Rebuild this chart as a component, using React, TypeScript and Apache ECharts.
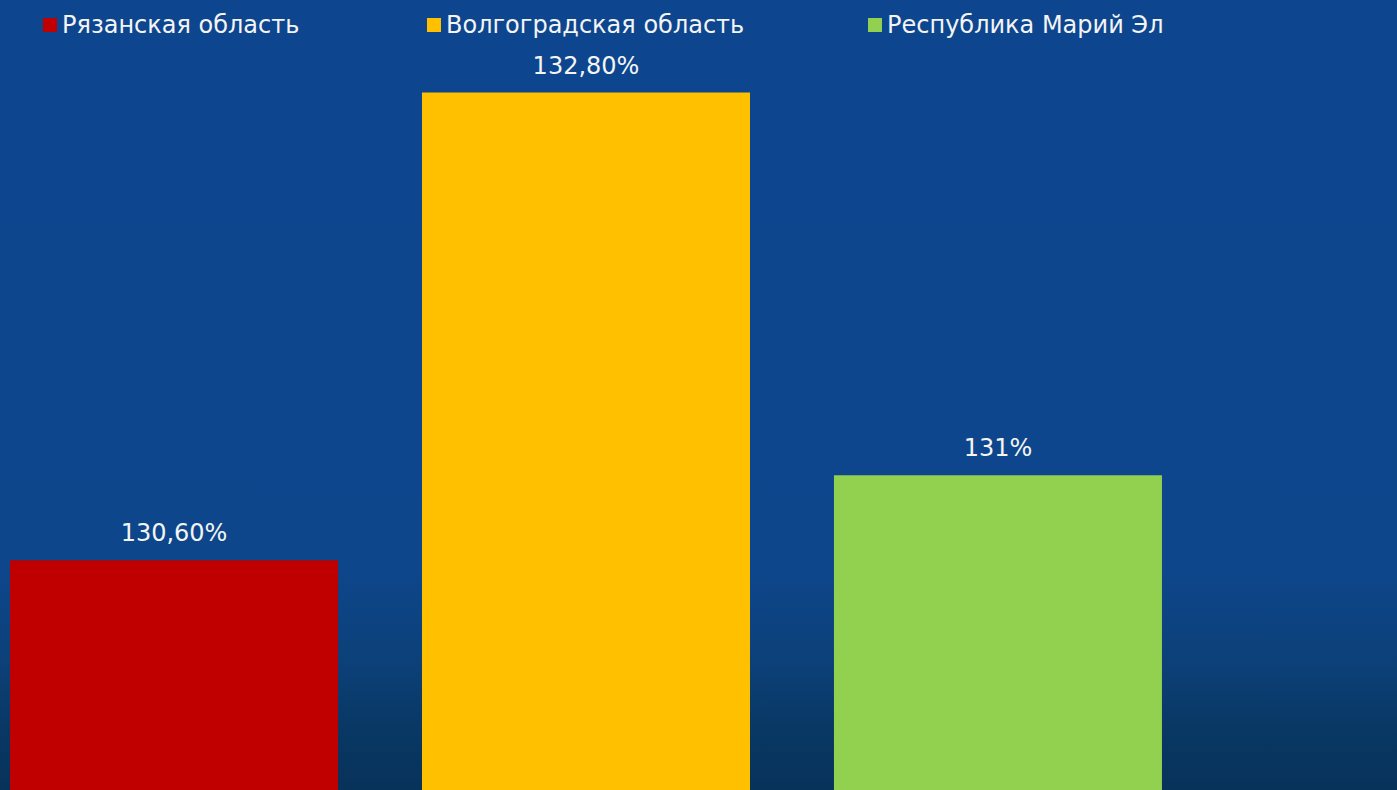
import React, { useEffect, useRef } from "react";
import * as echarts from "echarts";

const categories = ["Регион"];
const seriesNames = ["Рязанская область", "Волгоградская область", "Республика Марий Эл"];
const seriesValues = [130.6, 132.8, 131];
const valueLabels = ["130,60%", "132,80%", "131%"];
const seriesColors = ["#C00000", "#FFC000", "#92D050"];
const legendLefts = [43, 427, 868];

const FONT = "DejaVu Sans";

export default function App() {
  const ref = useRef<HTMLDivElement>(null);
  useEffect(() => {
    document.body.style.margin = "0";
    const chart = echarts.init(ref.current!, undefined, { renderer: "svg" });
    const option = {
      animation: false,
      backgroundColor: {
        type: "linear",
        x: 0,
        y: 0,
        x2: 0,
        y2: 1,
        colorStops: [
          { offset: 0, color: "#0d468f" },
          { offset: 0.72, color: "#0d468b" },
          { offset: 0.84, color: "#0c4078" },
          { offset: 0.92, color: "#093865" },
          { offset: 1, color: "#07325a" },
        ],
      },
      legend: seriesNames.map((name, i) => ({
        data: [name],
        left: legendLefts[i],
        top: 13,
        padding: 0,
        icon: "rect",
        itemWidth: 14,
        itemHeight: 14,
        itemGap: 0,
        textStyle: { color: "#f4f4f4", fontSize: 24, fontFamily: FONT },
        selectedMode: false,
      })),
      grid: { left: 0, right: 225, top: 50, bottom: 0, containLabel: false },
      xAxis: {
        type: "category",
        data: categories,
        show: false,
      },
      yAxis: {
        type: "value",
        min: 129.52,
        max: 133,
        show: false,
        splitLine: { show: false },
      },
      series: seriesNames.map((name, i) => ({
        name,
        type: "bar",
        data: [seriesValues[i]],
        barWidth: 328,
        barGap: "25.6%",
        itemStyle: { color: seriesColors[i] },
        label: {
          show: true,
          position: "top",
          distance: 15,
          color: "#f4f4f4",
          fontSize: 24,
          fontFamily: FONT,
          formatter: () => valueLabels[i],
        },
      })),
    };
    chart.setOption(option);
    return () => chart.dispose();
  }, []);
  return (
    <div
      ref={ref}
      style={{ position: "fixed", left: 0, top: 0, width: 1397, height: 790 }}
    />
  );
}
